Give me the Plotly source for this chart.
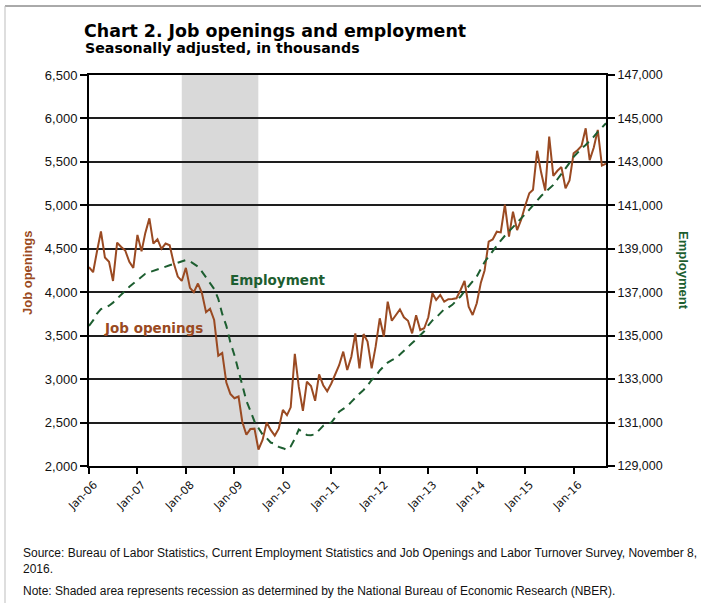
import pandas as pd
import plotly.graph_objects as go

# Monthly series, January 2006 through September 2016 (thousands, seasonally adjusted)
months = pd.date_range("2006-01-01", "2016-09-01", freq="MS")

job_openings = [
    # 2006
    4290, 4230, 4460, 4700, 4400, 4350, 4130, 4570, 4520, 4480, 4350, 4280,
    # 2007
    4660, 4470, 4680, 4850, 4560, 4610, 4500, 4560, 4540, 4340, 4180, 4130,
    # 2008
    4280, 4050, 4000, 4100, 3990, 3770, 3810, 3680, 3270, 3300, 2960, 2830,
    # 2009
    2780, 2800, 2510, 2360, 2425, 2430, 2190, 2300, 2500, 2415, 2350, 2430,
    # 2010
    2645, 2585, 2675, 3290, 2910, 2635, 2970, 2920, 2750, 3055, 2930, 2860,
    # 2011
    2950, 3070, 3160, 3316, 3105, 3258, 3527, 3124, 3519, 3431, 3124, 3373,
    # 2012
    3700, 3488, 3891, 3672, 3738, 3803, 3712, 3672, 3527, 3734, 3565, 3585,
    # 2013
    3712, 3988, 3911, 3969, 3891, 3919, 3922, 3930, 4026, 4129, 3833, 3738,
    # 2014
    3873, 4110, 4250, 4582, 4607, 4697, 4688, 5008, 4640, 4927, 4716, 4831,
    # 2015
    4995, 5139, 5180, 5628, 5380, 5170, 5790, 5340, 5398, 5440, 5196, 5286,
    # 2016
    5599, 5637, 5685, 5887, 5520, 5666, 5868, 5458, 5480,
]

employment = [
    # 2006
    135450, 135700, 136000, 136220, 136300, 136380, 136520, 136700, 136900, 137100, 137250, 137400,
    # 2007
    137550, 137700, 137850, 137920, 137990, 138060, 138110, 138170, 138240, 138300, 138370, 138430,
    # 2008
    138480, 138420, 138320, 138180, 137950, 137700, 137420, 137150, 136700, 136000, 135450, 134700,
    # 2009
    134100, 133350, 132650, 132000, 131550, 131050, 130750, 130450, 130280, 130080, 130020, 129880,
    # 2010
    129820, 129740, 129900, 130250, 130680, 130550, 130430, 130420, 130460, 130650, 130850, 130950,
    # 2011
    131000, 131250, 131500, 131630, 131750, 131950, 132150, 132330, 132500, 132700, 132960, 133120,
    # 2012
    133400, 133580, 133760, 133870, 133970, 134130, 134290, 134450, 134660, 134830, 135000, 135200,
    # 2013
    135480, 135700, 135830, 136050, 136220, 136300, 136420, 136620, 136800, 137050, 137300, 137500,
    # 2014
    137720, 138100, 138390, 138650, 138900, 139150, 139380, 139600, 139800, 139990, 140170, 140400,
    # 2015
    140600, 140800, 141000, 141230, 141430, 141600, 141750, 141940, 142200, 142430, 142670, 142950,
    # 2016
    143230, 143450, 143620, 143780, 143960, 144160, 144380, 144580, 144780,
]

recession = ["2007-12-01", "2009-06-30"]

BROWN = "#9a4a22"
GREEN = "#1d5e30"
GRID = "#1e1e1e"

W, H = 701, 603
ML, MR, MT, MB = 89, 95, 75, 137
PW, PH = W - ML - MR, H - MT - MB


def fx(x):
    """Pixel x -> paper x."""
    return (x - ML) / PW


def fy(y):
    """Pixel y (from top) -> paper y."""
    return (H - MB - y) / PH


fig = go.Figure()

fig.add_trace(go.Scatter(
    x=months, y=job_openings, mode="lines", name="Job openings",
    line=dict(color=BROWN, width=2), yaxis="y",
))
fig.add_trace(go.Scatter(
    x=months, y=employment, mode="lines", name="Employment",
    line=dict(color=GREEN, width=2, dash="8px,6px"), yaxis="y2",
))

shapes = [
    # recession band
    dict(type="rect", xref="x", yref="paper", x0=recession[0], x1=recession[1],
         y0=0, y1=1, fillcolor="#d9d9d9", line=dict(width=0), layer="below"),
    # outer frame (top and left edges)
    dict(type="line", xref="paper", yref="paper", x0=fx(5), x1=fx(W + 2),
         y0=fy(6), y1=fy(6), line=dict(color="#555555", width=1)),
    dict(type="line", xref="paper", yref="paper", x0=fx(5), x1=fx(5),
         y0=fy(6), y1=fy(H + 2), line=dict(color="#bdbdbd", width=1)),
]

SANS = "Liberation Sans, Arial, sans-serif"
VERD = "DejaVu Sans, Verdana, sans-serif"


def note(text, x, y, size, color, family, xanchor="left", yanchor="middle", angle=0):
    return dict(text=text, xref="paper", yref="paper", x=fx(x), y=fy(y),
                xanchor=xanchor, yanchor=yanchor, align="left", textangle=angle,
                showarrow=False, font=dict(family=family, size=size, color=color))


annotations = [
    note("<b>Chart 2. Job openings and employment</b>", 82, 31, 17.4, "#000000", VERD),
    note("<b>Seasonally adjusted, in thousands</b>", 83, 48, 14.2, "#000000", VERD),
    note("<b>Job openings</b>", 153, 328, 13.5, BROWN, VERD, xanchor="center"),
    note("<b>Employment</b>", 277, 280, 13.5, GREEN, VERD, xanchor="center"),
    note("<b>Job openings</b>", 27, 273, 13, BROWN, SANS, xanchor="center", angle=-90),
    note("<b>Employment</b>", 684, 270, 13, GREEN, SANS, xanchor="center", angle=90),
    note("Source: Bureau of Labor Statistics, Current Employment Statistics and Job Openings "
         "and Labor Turnover Survey, November 8,<br>2016.", 21, 544, 12, "#111111", SANS,
         yanchor="top"),
    note("Note: Shaded area represents recession as determined by the National Bureau of "
         "Economic Research (NBER).", 21, 591, 12, "#111111", SANS),
]

fig.update_layout(
    width=W, height=H,
    margin=dict(l=ML, r=MR, t=MT, b=MB, pad=0),
    paper_bgcolor="#ffffff", plot_bgcolor="#ffffff",
    showlegend=False,
    shapes=shapes,
    annotations=annotations,
    xaxis=dict(
        type="date", range=["2006-01-01", "2016-09-01"],
        tick0="2006-01-01", dtick="M12", tickformat="%b-%y", tickangle=-45,
        ticks="outside", ticklen=6, tickwidth=1.5, tickcolor="#000000",
        ticklabelshift=5,
        showline=True, linecolor="#000000", linewidth=2, mirror=True,
        showgrid=False, zeroline=False,
        tickfont=dict(family=VERD, size=11, color="#111111"),
    ),
    yaxis=dict(
        range=[2000, 6500], dtick=500, tick0=2000, tickformat=",",
        ticks="outside", ticklen=7, tickwidth=1.5, tickcolor="#000000",
        showline=True, linecolor="#000000", linewidth=2,
        showgrid=True, gridcolor=GRID, gridwidth=1.8, zeroline=False,
        tickfont=dict(family=SANS, size=13, color="#111111"),
    ),
    yaxis2=dict(
        overlaying="y", side="right",
        range=[129000, 147000], dtick=2000, tick0=129000, tickformat=",",
        ticks="outside", ticklen=7, tickwidth=1.5, tickcolor="#000000",
        showline=True, linecolor="#000000", linewidth=2,
        showgrid=False, zeroline=False,
        tickfont=dict(family=SANS, size=12.5, color="#111111"),
    ),
)

fig.write_html("out.html")
